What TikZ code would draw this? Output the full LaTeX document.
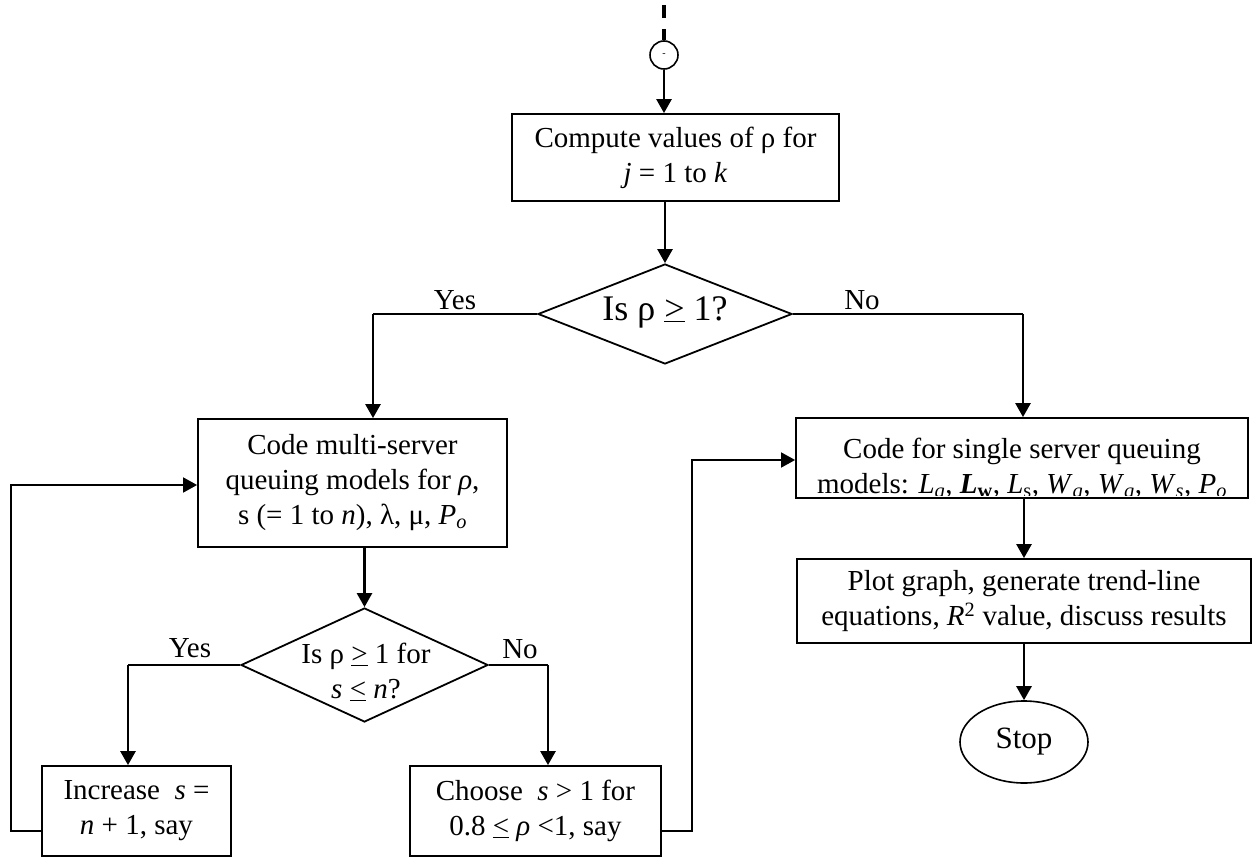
\documentclass[tikz,border=0pt]{standalone}
\usepackage{fontspec}
\setmainfont{Liberation Serif}
\usetikzlibrary{arrows.meta,shapes.geometric}
\tikzset{
  box/.style={draw, line width=1.8pt, rectangle, inner sep=0pt, align=center},
  txt/.style={inner sep=0pt, align=center, font=\fontsize{29}{35}\selectfont},
  arrowtip/.style={-{Triangle[length=14pt,width=15pt]}},
  arr/.style={line width=2.6pt, arrowtip},
  conn/.style={line width=1.8pt},
  lbl/.style={inner sep=0pt, font=\fontsize{29}{35}\selectfont},
}
\begin{document}
\begin{tikzpicture}[x=1pt,y=-1pt]
\useasboundingbox (0,0) rectangle (1253,858);
\fill[white] (0,0) rectangle (1253,858);

% start connector
\coordinate (top) at (664,5);
\node[draw, circle, line width=1.6pt, minimum size=28pt, inner sep=0pt, font=\fontsize{10}{10}\selectfont] (start) at (664,55) {-};
\draw[line width=3.2pt, dash pattern=on 13pt off 11pt] (top) -- (start.north);

% box 1
\node[box, txt, minimum width=327pt, minimum height=87pt] (b1) at (675.5,157.5)
  {Compute values of ρ for\\ \textit{j} = 1 to \textit{k}};

% diamond 1
\node[draw, diamond, line width=1.8pt, minimum width=254pt, minimum height=100pt, inner sep=0pt, aspect=2.54] (d1) at (665,314) {};
\node[inner sep=0pt, font=\fontsize{36}{40}\selectfont] (d1t) at (665,312) {Is ρ \underline{>} 1?};

% multi-server box
\node[box, txt, minimum width=309pt, minimum height=128pt] (b2) at (352.5,483)
  {Code multi-server\\ queuing models for \textit{ρ},\\ s (= 1 to \textit{n}), λ, μ, \textit{P}\textsubscript{\textit{o}}};

% diamond 2
\node[draw, diamond, line width=1.8pt, minimum width=247pt, minimum height=114pt, inner sep=0pt, aspect=2.17] (d2) at (364.5,665) {};
\node[txt] (d2t) at (366,672) {Is ρ \underline{>} 1 for\\ \textit{s} \underline{<} \textit{n}?};

% bottom boxes
\node[box, txt, minimum width=189pt, minimum height=90pt] (inc) at (136.5,811)
  {Increase~ \textit{s} =\\ \textit{n} + 1, say};
\node[box, txt, minimum width=251pt, minimum height=90pt] (ch) at (535.5,811)
  {Choose~ \textit{s} > 1 for\\ 0.8 \underline{<} \textit{ρ} <1, say};

% single server box (second line cut off at its baseline, as in the original)
\node[box, minimum width=452pt, minimum height=80pt] (single) at (1022,458) {};
\begin{scope}
  \clip (single.north west) rectangle (1248,495.5);
  \node[txt] (singlet) at (1022,470) {Code for single server queuing\\ models: \textit{L}\textsubscript{\textit{q}}, \textbf{\textit{L}}\textsubscript{\textbf{w}}, \textit{L}\textsubscript{s}, \textit{W}\textsubscript{\textit{q}}, \textit{W}\textsubscript{\textit{q}}, \textit{W}\textsubscript{\textit{s}}, \textit{P}\textsubscript{\textit{o}}};
\end{scope}

% plot box
\node[box, txt, minimum width=454pt, minimum height=84pt] (plot) at (1024,601)
  {Plot graph, generate trend-line\\ equations, \textit{R}\textsuperscript{2} value, discuss results};

% stop
\node[draw, ellipse, line width=1.6pt, minimum width=128pt, minimum height=82pt, inner sep=0pt, font=\fontsize{31}{35}\selectfont] (stop) at (1024,742) {Stop};

% labels
\node[lbl, anchor=base] (yes1) at (455,310) {Yes};
\node[lbl, anchor=base] (no1) at (862,310) {No};
\node[lbl, anchor=base] (yes2) at (190,657) {Yes};
\node[lbl, anchor=base] (no2) at (520,658) {No};

% connectors
\draw[arr] (start.south) -- (start.south |- b1.north);
\draw[arr] (d1.north |- b1.south) -- (d1.north);

\coordinate (c1) at (373,314);
\draw[conn] (d1.west) -- (c1);
\draw[arr] (c1) -- (c1 |- b2.north);

\coordinate (c2) at (1023,314);
\draw[conn] (d1.east) -- (c2);
\draw[arr] (c2) -- (c2 |- single.north);

\draw[arr] (d2.north |- b2.south) -- (d2.north);

\coordinate (c3) at (128,665);
\draw[conn] (d2.west) -- (c3);
\draw[arr] (c3) -- (c3 |- inc.north);

\coordinate (c4) at (548,665);
\draw[conn] (d2.east) -- (c4);
\draw[arr] (c4) -- (c4 |- ch.north);

\coordinate (l1) at (11,831);
\coordinate (l2) at (11,485);
\draw[conn, arrowtip] (l1 -| inc.west) -- (l1) -- (l2) -- (l2 -| b2.west);

\coordinate (r1) at (692,831);
\coordinate (r2) at (692,460);
\draw[conn, arrowtip] (r1 -| ch.east) -- (r1) -- (r2) -- (r2 -| single.west);

\draw[arr] (plot.north |- single.south) -- (plot.north);
\draw[arr] (plot.south) -- (stop.north);
\end{tikzpicture}
\end{document}
